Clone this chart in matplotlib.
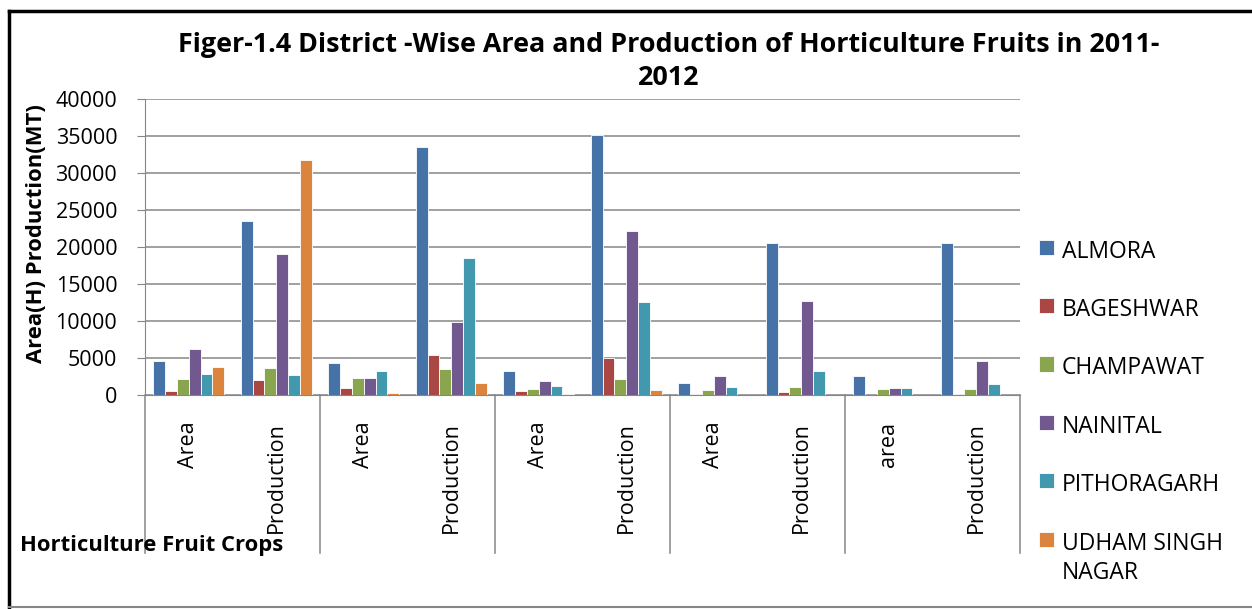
import matplotlib.pyplot as plt
from matplotlib.lines import Line2D
import numpy as np

plt.rcParams['font.family'] = ['Open Sans', 'DejaVu Sans']

# categories along x (5 crop pairs of Area / Production)
categories = ['Area', 'Production', 'Area', 'Production', 'Area',
              'Production', 'Area', 'Production', 'area', 'Production']

districts = ['ALMORA', 'BAGESHWAR', 'CHAMPAWAT', 'NAINITAL', 'PITHORAGARH',
             'UDHAM SINGH\nNAGAR']

almora = [4600, 23500, 4300, 33550, 3300, 35100, 1650, 20550, 2550, 20550]
bageshwar = [550, 2050, 950, 5400, 550, 5050, 150, 400, 30, 100]
champawat = [2150, 3600, 2250, 3500, 850, 2150, 650, 1050, 850, 850]
nainital = [6200, 19050, 2300, 9800, 1950, 22150, 2550, 12700, 950, 4600]
pithoragarh = [2900, 2750, 3300, 18500, 1200, 12550, 1050, 3250, 950, 1500]
udham = [3800, 31800, 250, 1600, 100, 700, 0, 0, 0, 0]

series = [almora, bageshwar, champawat, nainital, pithoragarh, udham]
colors = ['#4572A7', '#AA4643', '#89A54E', '#71588F', '#4198AF', '#DB843D']

W, H = 1252, 609
fig = plt.figure(figsize=(W / 100, H / 100), dpi=100)
ax = fig.add_axes([145 / W, 1 - 395 / H, 875 / W, 296 / H])

x = np.arange(len(categories))
bw = 0.135
for i, (vals, c) in enumerate(zip(series, colors)):
    ax.bar(x + (i - 2.5) * bw, vals, width=bw, color=c, edgecolor='white',
           linewidth=0.6, label=districts[i], zorder=3)

ax.set_xlim(-0.5, len(categories) - 0.5)
ax.set_ylim(0, 40000)
ax.set_yticks(np.arange(0, 40001, 5000))
ax.yaxis.grid(True, color='#868686', linewidth=1.1, zorder=0)
ax.tick_params(axis='y', labelsize=15.5, length=6, color='#868686', pad=14)
ax.set_xticks([])
for s in ['top', 'right']:
    ax.spines[s].set_visible(False)
for s in ['left', 'bottom']:
    ax.spines[s].set_color('#868686')

# category labels and separators below the axis
trans = ax.get_xaxis_transform()
for i, lab in enumerate(categories):
    ax.text(i, -0.09, lab, rotation=90, ha='center', va='top', fontsize=15.5,
            transform=trans)
for b in np.arange(-0.5, len(categories), 2):
    ax.plot([b, b], [0, -0.535], color='#868686', linewidth=1.1,
            transform=trans, clip_on=False)

fig.text(669 / W, 1 - 45 / H,
         'Figer-1.4 District -Wise Area and Production of Horticulture Fruits in 2011-',
         ha='center', va='center', fontsize=19.4, fontweight='bold')
fig.text(669 / W, 1 - 78 / H, '2012', ha='center', va='center',
         fontsize=19.4, fontweight='bold')
fig.text(37 / W, 1 - 234 / H, 'Area(H) Production(MT)', rotation=90,
         ha='center', va='center', fontsize=15.8, fontweight='bold')
fig.text(20 / W, 1 - 545 / H, 'Horticulture Fruit Crops', ha='left',
         va='center', fontsize=15.8, fontweight='bold')

leg = fig.legend(loc='upper left', bbox_to_anchor=(1018 / W, 1 - 219 / H),
                 frameon=False, fontsize=16.5, handlelength=0.65,
                 handleheight=0.65, handletextpad=0.35, labelspacing=1.5)
for t in leg.get_texts():
    t.set_linespacing(1.3)
# put the colour square next to the first line of two-line labels
for col in leg._legend_handle_box.get_children():
    for row in col.get_children():
        row.align = 'top'

# outer frame
fig.add_artist(Line2D([9 / W, 1], [1 - 11 / H, 1 - 11 / H], color='black',
                      linewidth=2.5))
fig.add_artist(Line2D([9 / W, 9 / W], [1 - 11 / H, 1 - 607 / H],
                      color='black', linewidth=2.5))
fig.add_artist(Line2D([9 / W, 1], [1 - 607 / H, 1 - 607 / H],
                      color='#868686', linewidth=1.5))

fig.savefig('out.png', dpi=100)
